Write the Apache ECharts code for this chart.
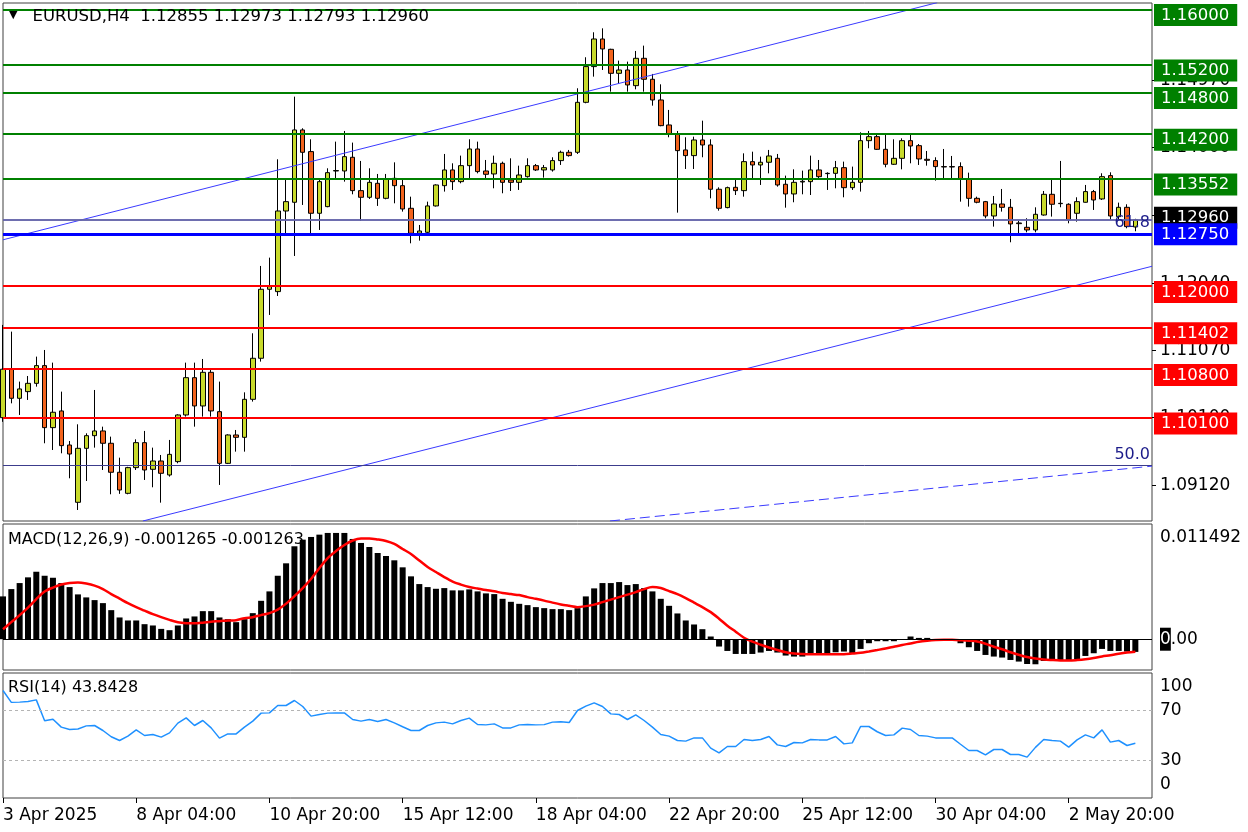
<!DOCTYPE html>
<html><head><meta charset="utf-8">
<script src="https://cdn.jsdelivr.net/npm/echarts@6/dist/echarts.min.js"></script>
<style>html,body{margin:0;padding:0;background:#fff}#c{width:1248px;height:832px}</style>
</head><body><div id="c"></div>
<script>
const FONT = 'DejaVu Sans';
// ---------- categories (H4 bars, weekends skipped) ----------
const MONTHS = ['Jan','Feb','Mar','Apr','May','Jun','Jul','Aug','Sep','Oct','Nov','Dec'];
const categories = [];
(function(){
  let t = Date.UTC(2025,3,3,12);
  while (categories.length < 139) {
    const d = new Date(t), wd = d.getUTCDay();
    if (wd !== 0 && wd !== 6) {
      const hh = String(d.getUTCHours()).padStart(2,'0');
      categories.push(categories.length === 0 ? '3 Apr 2025' : d.getUTCDate() + ' ' + MONTHS[d.getUTCMonth()] + ' ' + hh + ':00');
    }
    t += 4*3600e3;
  }
})();
const labelEvery = 16;

// ---------- OHLC ----------
const opens = [1.1010,1.1080,1.1038,1.10476,1.10596,1.10852,1.09956,1.10197,1.09705,1.08877,
1.09657,1.0984,1.09908,1.0973,1.09311,1.09007,1.09378,1.09739,1.09354,1.09474,
1.09272,1.09465,1.10139,1.10678,1.10269,1.10755,1.10187,1.0944,1.0985,1.09816,
1.10365,1.10958,1.11955,1.11921,1.13086,1.13212,1.14257,1.13944,1.13053,1.13149,
1.13664,1.13664,1.13862,1.1338,1.13284,1.13486,1.13269,1.13558,1.13452,1.13125,
1.12764,1.12778,1.13159,1.13452,1.13679,1.1351,1.13741,1.13982,1.13664,1.13621,
1.13775,1.13534,1.135,1.13582,1.13741,1.13679,1.13679,1.13814,1.13934,1.13934,
1.14656,1.15172,1.15571,1.15422,1.15075,1.15123,1.14897,1.15292,1.14989,1.1469,
1.14329,1.14194,1.13968,1.13886,1.14112,1.1404,1.134,1.13135,1.13428,1.1338,
1.13799,1.13751,1.1379,1.13847,1.13472,1.13332,1.13505,1.1351,1.13679,1.1363,
1.1363,1.13712,1.13423,1.135,1.14102,1.1416,1.13977,1.13761,1.13847,1.14102,
1.1403,1.13833,1.13814,1.13727,1.13727,1.13727,1.13549,1.13269,1.13221,1.13014,
1.13187,1.13139,1.12913,1.1285,1.12812,1.13028,1.13327,1.13197,1.13183,1.13053,
1.13212,1.13366,1.1326,1.13597,1.13004,1.13139,1.12855];
const highs = [1.1144,1.11343,1.10621,1.10702,1.10982,1.11078,1.10895,1.10476,1.09763,1.10004,
1.09874,1.105,1.0997,1.09826,1.09522,1.0939,1.09787,1.09908,1.09667,1.09561,
1.09778,1.10149,1.10895,1.10895,1.10948,1.10803,1.10621,1.0986,1.09922,1.10466,
1.11319,1.12292,1.12412,1.13833,1.13549,1.14738,1.14281,1.14122,1.13534,1.13703,
1.14088,1.14242,1.14074,1.13809,1.13703,1.13621,1.13621,1.13789,1.13534,1.13293,
1.12884,1.13221,1.13472,1.1391,1.13775,1.13886,1.14122,1.14088,1.13823,1.13886,
1.13799,1.13847,1.13741,1.13847,1.13765,1.13751,1.13862,1.13958,1.13968,1.14859,
1.15307,1.15668,1.15725,1.1543,1.15258,1.15244,1.15398,1.15475,1.15066,1.14916,
1.14546,1.14242,1.14151,1.1416,1.14391,1.14122,1.13428,1.13438,1.13534,1.13919,
1.13943,1.13871,1.13968,1.1391,1.13597,1.13688,1.13669,1.13886,1.13823,1.13645,
1.13809,1.13799,1.13727,1.14223,1.14242,1.14184,1.14194,1.14122,1.14136,1.14184,
1.14054,1.13953,1.13862,1.13982,1.13881,1.13789,1.1364,1.13293,1.13231,1.13303,
1.13404,1.1326,1.12942,1.12981,1.13139,1.13375,1.13549,1.13809,1.13197,1.13284,
1.13462,1.1339,1.13631,1.13645,1.13207,1.13183,1.12973];
const lows = [1.1004,1.10307,1.10139,1.10356,1.10548,1.0973,1.09633,1.09585,1.09224,1.08766,
1.09185,1.09667,1.09344,1.08993,1.08999,1.08993,1.09344,1.092,1.09094,1.08872,
1.09248,1.09441,1.10115,1.0997,1.10115,1.10115,1.09128,1.0943,1.09609,1.09609,
1.10332,1.1091,1.11584,1.11858,1.12764,1.12436,1.13173,1.12764,1.12812,1.1314,
1.13558,1.1351,1.13327,1.12942,1.1326,1.13159,1.13255,1.13197,1.13077,1.12619,
1.12658,1.12764,1.1315,1.13366,1.1339,1.13486,1.13558,1.1363,1.13558,1.13414,
1.13342,1.13375,1.1339,1.13568,1.13664,1.13568,1.13655,1.13751,1.13871,1.1391,
1.14642,1.15027,1.15123,1.1481,1.14921,1.1481,1.14844,1.1481,1.14608,1.1431,
1.14151,1.13062,1.13693,1.13693,1.13862,1.13269,1.13091,1.13125,1.13317,1.13293,
1.13558,1.13462,1.1363,1.13438,1.13134,1.13212,1.13327,1.13317,1.13558,1.1339,
1.13414,1.13284,1.1339,1.13366,1.13992,1.13968,1.13717,1.13751,1.13688,1.13775,
1.13751,1.13741,1.13525,1.13534,1.13534,1.13221,1.13149,1.13197,1.1298,1.1286,
1.13077,1.12634,1.12764,1.12778,1.12778,1.13019,1.13005,1.1314,1.12908,1.12932,
1.13207,1.13101,1.13245,1.12956,1.12956,1.12836,1.12793];
const closes = [1.1080,1.1038,1.10515,1.10596,1.10852,1.09956,1.10178,1.09696,1.09575,1.09657,
1.0984,1.09908,1.0973,1.09311,1.09055,1.09378,1.09739,1.09344,1.09474,1.09296,
1.0957,1.10139,1.10678,1.10269,1.10755,1.10197,1.0944,1.0985,1.09816,1.10365,
1.10958,1.11955,1.11993,1.13086,1.13221,1.14257,1.13934,1.13053,1.1351,1.1364,
1.1367,1.13871,1.1338,1.13284,1.135,1.13269,1.13549,1.13452,1.13115,1.12764,
1.12797,1.13159,1.13462,1.13679,1.1351,1.13741,1.13982,1.13655,1.13616,1.13775,
1.135,1.135,1.13606,1.13741,1.13679,1.13712,1.13814,1.13934,1.13886,1.14656,
1.15172,1.15571,1.15427,1.15075,1.15123,1.14907,1.15292,1.14989,1.1469,1.14319,
1.14199,1.13958,1.13886,1.14112,1.1404,1.134,1.13125,1.13423,1.1338,1.13799,
1.13751,1.1379,1.13881,1.13462,1.13332,1.135,1.13515,1.13679,1.13582,1.13626,
1.13712,1.13423,1.135,1.14102,1.1416,1.13977,1.13761,1.13847,1.14102,1.14025,
1.13838,1.13818,1.13727,1.13722,1.13722,1.13549,1.13269,1.13212,1.13014,1.13187,
1.13139,1.12899,1.12903,1.12812,1.13038,1.13327,1.13183,1.13192,1.12956,1.13221,
1.13366,1.13245,1.13582,1.13014,1.13139,1.1286,1.1296];

// ---------- MACD(12,26,9) ----------
const macdHist = [0.00427,0.00500,0.00560,0.00617,0.00673,0.00633,0.00613,0.00560,0.00520,0.00447,
0.00417,0.00390,0.00360,0.00290,0.00217,0.00187,0.00187,0.00150,0.00137,0.00103,
0.00090,0.00137,0.00207,0.00227,0.00280,0.00280,0.00217,0.00200,0.00170,0.00200,
0.00260,0.00383,0.00477,0.00633,0.00757,0.00927,0.00993,0.01020,0.01043,0.01060,
0.01060,0.01060,0.01000,0.00960,0.00920,0.00860,0.00830,0.00787,0.00717,0.00627,
0.00550,0.00520,0.00503,0.00510,0.00487,0.00487,0.00497,0.00477,0.00457,0.00450,
0.00403,0.00373,0.00353,0.00340,0.00320,0.00310,0.00300,0.00300,0.00290,0.00310,
0.00427,0.00507,0.00560,0.00560,0.00570,0.00540,0.00550,0.00510,0.00477,0.00403,
0.00333,0.00257,0.00187,0.00147,0.00100,0.00027,-0.00073,-0.00117,-0.00147,-0.00147,
-0.00147,-0.00133,-0.00117,-0.00133,-0.00163,-0.00173,-0.00173,-0.00140,-0.00140,-0.00140,
-0.00130,-0.00123,-0.00140,-0.00097,-0.00040,-0.00020,-0.00020,-0.00020,-0.00007,0.00027,
0.00013,0.00013,0.00000,0.00000,-0.00007,-0.00040,-0.00080,-0.00117,-0.00157,-0.00173,
-0.00183,-0.00207,-0.00223,-0.00247,-0.00250,-0.00217,-0.00207,-0.00207,-0.00207,-0.00200,
-0.00167,-0.00140,-0.00097,-0.00117,-0.00117,-0.00123,-0.001265];
const macdSignal = [0.00100,0.00170,0.00240,0.00315,0.00400,0.00475,0.00515,0.00545,0.00560,0.00565,
0.00555,0.00535,0.00500,0.00450,0.00405,0.00360,0.00320,0.00285,0.00250,0.00220,
0.00193,0.00170,0.00160,0.00158,0.00165,0.00175,0.00180,0.00187,0.00190,0.00210,
0.00220,0.00240,0.00260,0.00295,0.00355,0.00430,0.00510,0.00600,0.00710,0.00810,
0.00880,0.00940,0.00985,0.01005,0.01005,0.00995,0.00980,0.00950,0.00900,0.00850,
0.00785,0.00720,0.00670,0.00620,0.00575,0.00545,0.00520,0.00505,0.00490,0.00478,
0.00460,0.00450,0.00440,0.00420,0.00403,0.00385,0.00365,0.00347,0.00333,0.00320,
0.00330,0.00345,0.00370,0.00395,0.00420,0.00445,0.00470,0.00500,0.00520,0.00510,
0.00480,0.00450,0.00410,0.00365,0.00320,0.00270,0.00205,0.00135,0.00075,0.00015,
-0.00025,-0.00055,-0.00082,-0.00107,-0.00130,-0.00143,-0.00148,-0.00150,-0.00150,-0.00150,
-0.00150,-0.00150,-0.00143,-0.00135,-0.00122,-0.00108,-0.00093,-0.00075,-0.00057,-0.00042,
-0.00025,-0.00015,-0.00008,-0.00005,-0.00006,-0.00010,-0.00015,-0.00023,-0.00045,-0.00075,
-0.00100,-0.00130,-0.00155,-0.00178,-0.00193,-0.00203,-0.00208,-0.00212,-0.00213,-0.00208,
-0.00200,-0.00188,-0.00172,-0.00160,-0.00145,-0.00133,-0.00126];
const macdRange = [-0.003071, 0.011492];

// ---------- RSI(14) ----------
const rsi = [86.0,76.5,76.7,77.2,78.5,61.8,63.0,56.7,54.8,55.2,
57.7,58.0,54.0,49.0,46.0,49.5,54.5,50.0,50.8,48.7,
52.1,59.9,64.1,58.0,62.0,56.1,47.9,51.3,51.3,56.7,
61.5,67.9,68.1,74.0,74.0,78.0,73.2,65.5,66.8,67.9,
68.0,68.1,62.8,61.5,62.8,61.2,62.8,60.1,57.0,54.0,
54.0,58.0,60.1,60.7,59.3,62.0,63.9,58.8,58.5,59.3,
56.1,56.1,58.5,58.8,58.5,58.7,60.7,61.0,60.4,70.0,
73.5,76.1,73.2,67.3,66.8,62.8,66.5,62.0,56.7,50.8,
49.5,46.0,45.5,48.1,48.1,39.9,36.1,41.2,41.2,46.8,
46.0,46.8,49.2,42.5,41.2,44.4,44.1,46.8,46.5,46.5,
49.2,43.3,44.1,57.2,57.2,53.0,50.0,50.5,55.9,54.8,
50.0,49.5,48.1,48.1,48.1,43.0,38.0,38.0,34.5,38.8,
38.8,34.8,34.8,32.7,40.5,46.8,46.0,45.5,40.7,46.5,
50.5,48.1,54.5,44.7,46.0,42.0,43.84];
const rsiLevels = [70, 30];
const rsiTicks = [100, 70, 30, 0];

// ---------- price levels / drawings ----------
const priceRange = [1.08607, 1.16091];
const priceTicks = [1.14970, 1.14000, 1.13020, 1.12040, 1.11070, 1.10100, 1.09120];
const resistanceLevels = [1.16000, 1.15200, 1.14800, 1.14200, 1.13552];
const supportLevels = [1.12000, 1.11402, 1.10800, 1.10100];
const keyLevel = 1.12750;
const bidPrice = 1.12960;
const fibLevels = [{name:'61.8', value:1.12960}, {name:'50.0', value:1.09416}];
const channelUpper = [[0, 1.12670], [112.2, 1.16096]];
const channelLower = [[16.8, 1.08607], [138, 1.12287]];
const dashedTrend = [[72.9, 1.08607], [138, 1.09400]];
const headerText = 'EURUSD,H4  1.12855 1.12973 1.12793 1.12960';
const macdText = 'MACD(12,26,9) -0.001265 -0.001263';
const rsiText = 'RSI(14) 43.8428';

// ---------- styling ----------
const GREEN = '#008000', RED = '#ff0000', BLUE = '#0000ff', BULL = '#C8DA2B', BEAR = '#F2631C';
const TREND = '#3a3aff', FIB = '#1c1c8a', BIDLINE = '#6464aa';

function boxLabel(v, bg, shift) {
  const b = '{b|' + v.toFixed(5) + '}';
  const txt = shift > 0 ? '{s| }\n' + b : (shift < 0 ? b + '\n{s| }' : b);
  return {
    show: true, position: 'end', distance: 2, formatter: txt,
    rich: {
      s: { fontSize: 1, lineHeight: Math.abs(shift) * 2 },
      b: { color: '#fff', backgroundColor: bg, fontSize: 16.5, fontFamily: FONT, lineHeight: 18, padding: [3, 8, 2, 7] }
    }
  };
}
const hLine = (v, color, width, label) => ({ yAxis: v, lineStyle: { color, width, type: 'solid' }, label });

const levelData = [
  ...resistanceLevels.map(v => hLine(v, GREEN, 2, boxLabel(v, GREEN, 5.75))),
  ...supportLevels.map(v => hLine(v, RED, 2, boxLabel(v, RED, 5.75))),
  hLine(bidPrice, BIDLINE, 1.5, boxLabel(bidPrice, '#000', -2)),
  hLine(keyLevel, BLUE, 3, boxLabel(keyLevel, BLUE, 0)),
  { yAxis: fibLevels[1].value, lineStyle: { color: '#3c3c8c', width: 1, type: 'solid' },
    label: { show: true, position: 'insideEndTop', distance: 2, formatter: fibLevels[1].name, color: FIB, fontSize: 16, fontFamily: FONT } }
];
const fibData = [
  { yAxis: fibLevels[0].value, lineStyle: { color: BIDLINE, width: 1.5, type: 'solid' },
    label: { show: true, position: 'insideEnd', distance: 2, formatter: '{s| }\n{f|' + fibLevels[0].name + '}',
      rich: { s: { fontSize: 1, lineHeight: 7 }, f: { color: FIB, fontSize: 16, fontFamily: FONT, lineHeight: 16 } } } }
];

const txt = { color: '#000', fontSize: 16, fontFamily: FONT };
const axTxt = { color: '#000', fontSize: 17, fontFamily: FONT };
const gridBase = { left: 3, right: 96, show: true, borderColor: '#404040', borderWidth: 1 };
const isEvery = (i) => i % labelEvery === 0;

const option = {
  animation: false,
  backgroundColor: '#fff',
  title: [
    { left: 8, top: 8, padding: 0, z: 10, text: '{tri|▼}' + headerText,
      textStyle: Object.assign({}, txt, { fontSize: 16.5, fontWeight: 'normal', rich: { tri: { fontSize: 11, color: '#000', padding: [0, 15, 2, 1] } } }) },
    { left: 8, top: 532, padding: 0, z: 0, text: macdText, textStyle: Object.assign({ fontWeight: 'normal' }, txt) },
    { left: 8, top: 680, padding: 0, z: 10, text: rsiText, textStyle: Object.assign({ fontWeight: 'normal' }, txt) }
  ],
  grid: [
    Object.assign({ top: 3, height: 518 }, gridBase),
    Object.assign({ top: 524, height: 146 }, gridBase),
    Object.assign({ top: 673, height: 125 }, gridBase)
  ],
  xAxis: [
    { type: 'category', gridIndex: 0, data: categories, boundaryGap: false, show: false },
    { type: 'value', gridIndex: 0, min: 0, max: categories.length - 1, show: false },
    { type: 'category', gridIndex: 1, data: categories, boundaryGap: false, show: false },
    { type: 'category', gridIndex: 2, data: categories, boundaryGap: false,
      axisLine: { show: false }, splitLine: { show: false },
      axisTick: { show: true, interval: isEvery, length: 5, lineStyle: { color: '#000' } },
      axisLabel: Object.assign({ interval: isEvery, align: 'left', margin: 9 }, axTxt) }
  ],
  yAxis: [
    { type: 'value', gridIndex: 0, position: 'right', min: priceRange[0], max: priceRange[1],
      splitLine: { show: false }, axisLine: { show: false, onZero: false },
      axisTick: { show: true, customValues: priceTicks, length: 4, lineStyle: { color: '#000' } },
      axisLabel: Object.assign({ customValues: priceTicks, margin: 8, formatter: v => v.toFixed(5) }, axTxt) },
    { type: 'value', gridIndex: 1, position: 'right', min: macdRange[0], max: macdRange[1],
      splitLine: { show: false }, axisLine: { show: false, onZero: false }, axisTick: { show: false },
      axisLabel: Object.assign({ customValues: [macdRange[1], 0, macdRange[0]], margin: 8,
        formatter: v => Math.abs(v - macdRange[1]) < 1e-9 ? '{t|' + macdRange[1].toFixed(6) + '}'
          : (Math.abs(v) < 1e-9 ? '{k|0}.00' : '{m|' + macdRange[0].toFixed(6) + '}'),
        rich: { t: { padding: [28, 0, 0, 0], ...axTxt }, m: { padding: [0, 0, 26, 0], ...axTxt },
                k: { backgroundColor: '#000', color: '#fff', fontSize: 17, fontFamily: FONT, padding: [3, 0, 3, 0] } } }, axTxt) },
    { type: 'value', gridIndex: 2, position: 'right', min: 0, max: 100,
      splitLine: { show: false }, axisLine: { show: false, onZero: false }, axisTick: { show: false },
      axisLabel: Object.assign({ customValues: rsiTicks, margin: 8,
        formatter: v => v === 100 ? '{t|100}' : (v === 0 ? '{m|0}' : String(v)),
        rich: { t: { padding: [28, 0, 0, 0], ...axTxt }, m: { padding: [0, 0, 26, 0], ...axTxt } } }, axTxt) }
  ],
  series: [
    { type: 'candlestick', xAxisIndex: 0, yAxisIndex: 0, z: 3, barWidth: 5, clip: true,
      data: opens.map((o, i) => [o, closes[i], lows[i], highs[i]]),
      itemStyle: { color: BULL, color0: BEAR, borderColor: '#000', borderColor0: '#000', borderWidth: 1 },
      markLine: { silent: true, symbol: ['none', 'none'], animation: false, precision: 6, z: 5, data: levelData } },
    { type: 'line', name: 'upper', xAxisIndex: 1, yAxisIndex: 0, z: 4, data: channelUpper, symbol: 'none', clip: true,
      lineStyle: { color: TREND, width: 1 },
      markLine: { silent: true, symbol: ['none', 'none'], animation: false, precision: 6, data: fibData } },
    { type: 'line', name: 'lower', xAxisIndex: 1, yAxisIndex: 0, z: 4, data: channelLower, symbol: 'none', clip: true,
      lineStyle: { color: TREND, width: 1 } },
    { type: 'line', name: 'dashed', xAxisIndex: 1, yAxisIndex: 0, z: 4, data: dashedTrend, symbol: 'none', clip: true,
      lineStyle: { color: TREND, width: 1, type: [10, 5] } },
    { type: 'bar', xAxisIndex: 2, yAxisIndex: 1, z: 2, data: macdHist, barWidth: 6, itemStyle: { color: '#000' },
      markLine: { silent: true, symbol: ['none', 'none'], animation: false, precision: 6, label: { show: false },
        data: [{ yAxis: 0, lineStyle: { color: '#000', width: 1, type: 'solid' } }] } },
    { type: 'line', xAxisIndex: 2, yAxisIndex: 1, z: 3, data: macdSignal, symbol: 'none', smooth: 0.3,
      lineStyle: { color: '#ff0000', width: 2.5 } },
    { type: 'line', xAxisIndex: 3, yAxisIndex: 2, z: 3, data: rsi, symbol: 'none',
      lineStyle: { color: '#1e90ff', width: 1.5 },
      markLine: { silent: true, symbol: ['none', 'none'], animation: false, label: { show: false },
        data: rsiLevels.map(v => ({ yAxis: v, lineStyle: { color: '#b4b4b4', width: 1, type: [3, 3] } })) } }
  ]
};
const chart = echarts.init(document.getElementById('c'), null, { renderer: 'canvas' });
chart.setOption(option);
</script></body></html>
